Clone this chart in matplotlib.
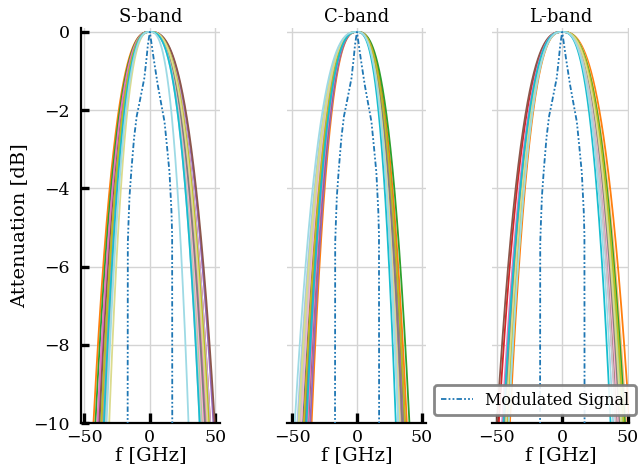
import numpy as np
import matplotlib
matplotlib.use("Agg")
import matplotlib.pyplot as plt

plt.rcParams['font.family'] = ['DejaVu Serif']

# ---------------- data ----------------
bands = ["S-band", "C-band", "L-band"]

# -10 dB crossing (GHz) on the left / right side of each filter response (tab20 order)
s_left = [38, 35, 43, 36, 41.5, 35, 39.5, 36, 39, 36, 38.5, 36, 40, 37, 37, 34, 37, 31, 35, 33]
s_right = [45, 38, 44, 40, 42, 40, 46, 41, 48.5, 46, 49.5, 44, 43, 41, 42, 39, 45, 44, 38, 29.5]
c_left = [42, 46, 35, 44, 39, 45, 41, 43, 36, 44, 37.5, 43, 38, 43, 40, 44, 41, 45, 39, 48]
c_right = [36, 32, 38.5, 34, 40.5, 33, 35, 34, 36, 33, 37, 34, 35, 33, 35, 32, 37, 33, 30, 32]
l_left = [44, 43, 40, 42, 43, 41, 48.5, 44, 45, 43, 50, 45, 46, 44, 44, 42, 42, 43, 45, 41]
l_right = [45, 44, 51.5, 49, 48, 46, 42, 44, 44, 43, 42, 43, 41, 43, 44, 41, 47, 45, 37, 39]
shape_order = 2.7

# modulated signal spectrum (GHz, dB)
sig_f = [-17.5, -16.8, -16.3, -15.5, -14.0, -12.0, -10.0, -8.2, -4.2, -2.5, -1.5, 0.0,
         1.5, 3.0, 6.0, 9.0, 11.2, 13.0, 15.0, 16.5, 17.0, 17.5]
sig_db = [-30.0, -5.4, -4.9, -4.2, -3.5, -2.7, -2.15, -1.86, -1.18, -0.67, -0.33, 0.0,
          -0.35, -0.7, -1.35, -1.9, -2.3, -2.9, -3.6, -4.6, -5.2, -30.0]

yticks = [0, -2, -4, -6, -8, -10]
xticks = [-50, 0, 50]
xlims = [(-52.5, 53.5), (-54.0, 53.3), (-53.7, 51.1)]

# ---------------- figure ----------------
W, H = 638, 473
fig = plt.figure(figsize=(W / 100, H / 100), dpi=100)
px_left = [81, 287, 492]
px_width = [139, 139, 137]
bottom_px, top_px = 423, 28

colors = plt.get_cmap("tab20").colors
f = np.linspace(-60, 60, 1201)
lefts = [s_left, c_left, l_left]
rights = [s_right, c_right, l_right]

axes = []
for i, band in enumerate(bands):
    ax = fig.add_axes([px_left[i] / W, (H - bottom_px) / H,
                       px_width[i] / W, (bottom_px - top_px) / H])
    axes.append(ax)
    for k, (wl, wr) in enumerate(zip(lefts[i], rights[i])):
        w = np.where(f < 0, wl, wr)
        att = -10 * (np.abs(f) / w) ** shape_order
        ax.plot(f, att, color=colors[k % 20], lw=1.3, zorder=2)
    ax.plot(sig_f, sig_db, color="#1f77b4", lw=1.3,
            linestyle=(0, (3, 1.2, 1, 1.2, 1, 1.2)), zorder=3,
            label="Modulated Signal")
    ax.set_xlim(*xlims[i])
    ax.set_ylim(-10, 0.1)
    ax.set_xticks(xticks)
    ax.set_yticks(yticks)
    ax.grid(True, color="#d4d4d4", lw=1.0, zorder=0)
    ax.set_axisbelow(True)
    ax.set_title(band, fontsize=13, pad=4)
    ax.set_xlabel("f [GHz]", fontsize=14, labelpad=0)
    for s in ["top", "right"]:
        ax.spines[s].set_visible(False)
    ax.spines["bottom"].set_linewidth(1.6)
    ax.spines["left"].set_linewidth(1.6)
    ax.tick_params(direction="in", length=7, width=2.4, labelsize=12.5)
    ax.tick_params(axis="x", pad=4)
    if i > 0:
        ax.spines["left"].set_visible(False)
        ax.tick_params(axis="y", left=False, labelleft=False)

axes[0].set_ylabel("Attenuation [dB]", fontsize=14, labelpad=4)
axes[0].tick_params(axis="y", length=6, pad=8)

leg = axes[2].legend(loc="lower right", bbox_to_anchor=(636 / W, (H - 415) / H),
                     bbox_transform=fig.transFigure, borderaxespad=0,
                     fontsize=11.5, handlelength=2.0, fancybox=True,
                     framealpha=0.9, edgecolor="#7a7a7a")
leg.get_frame().set_linewidth(2.0)

fig.savefig("out.png", dpi=100)
